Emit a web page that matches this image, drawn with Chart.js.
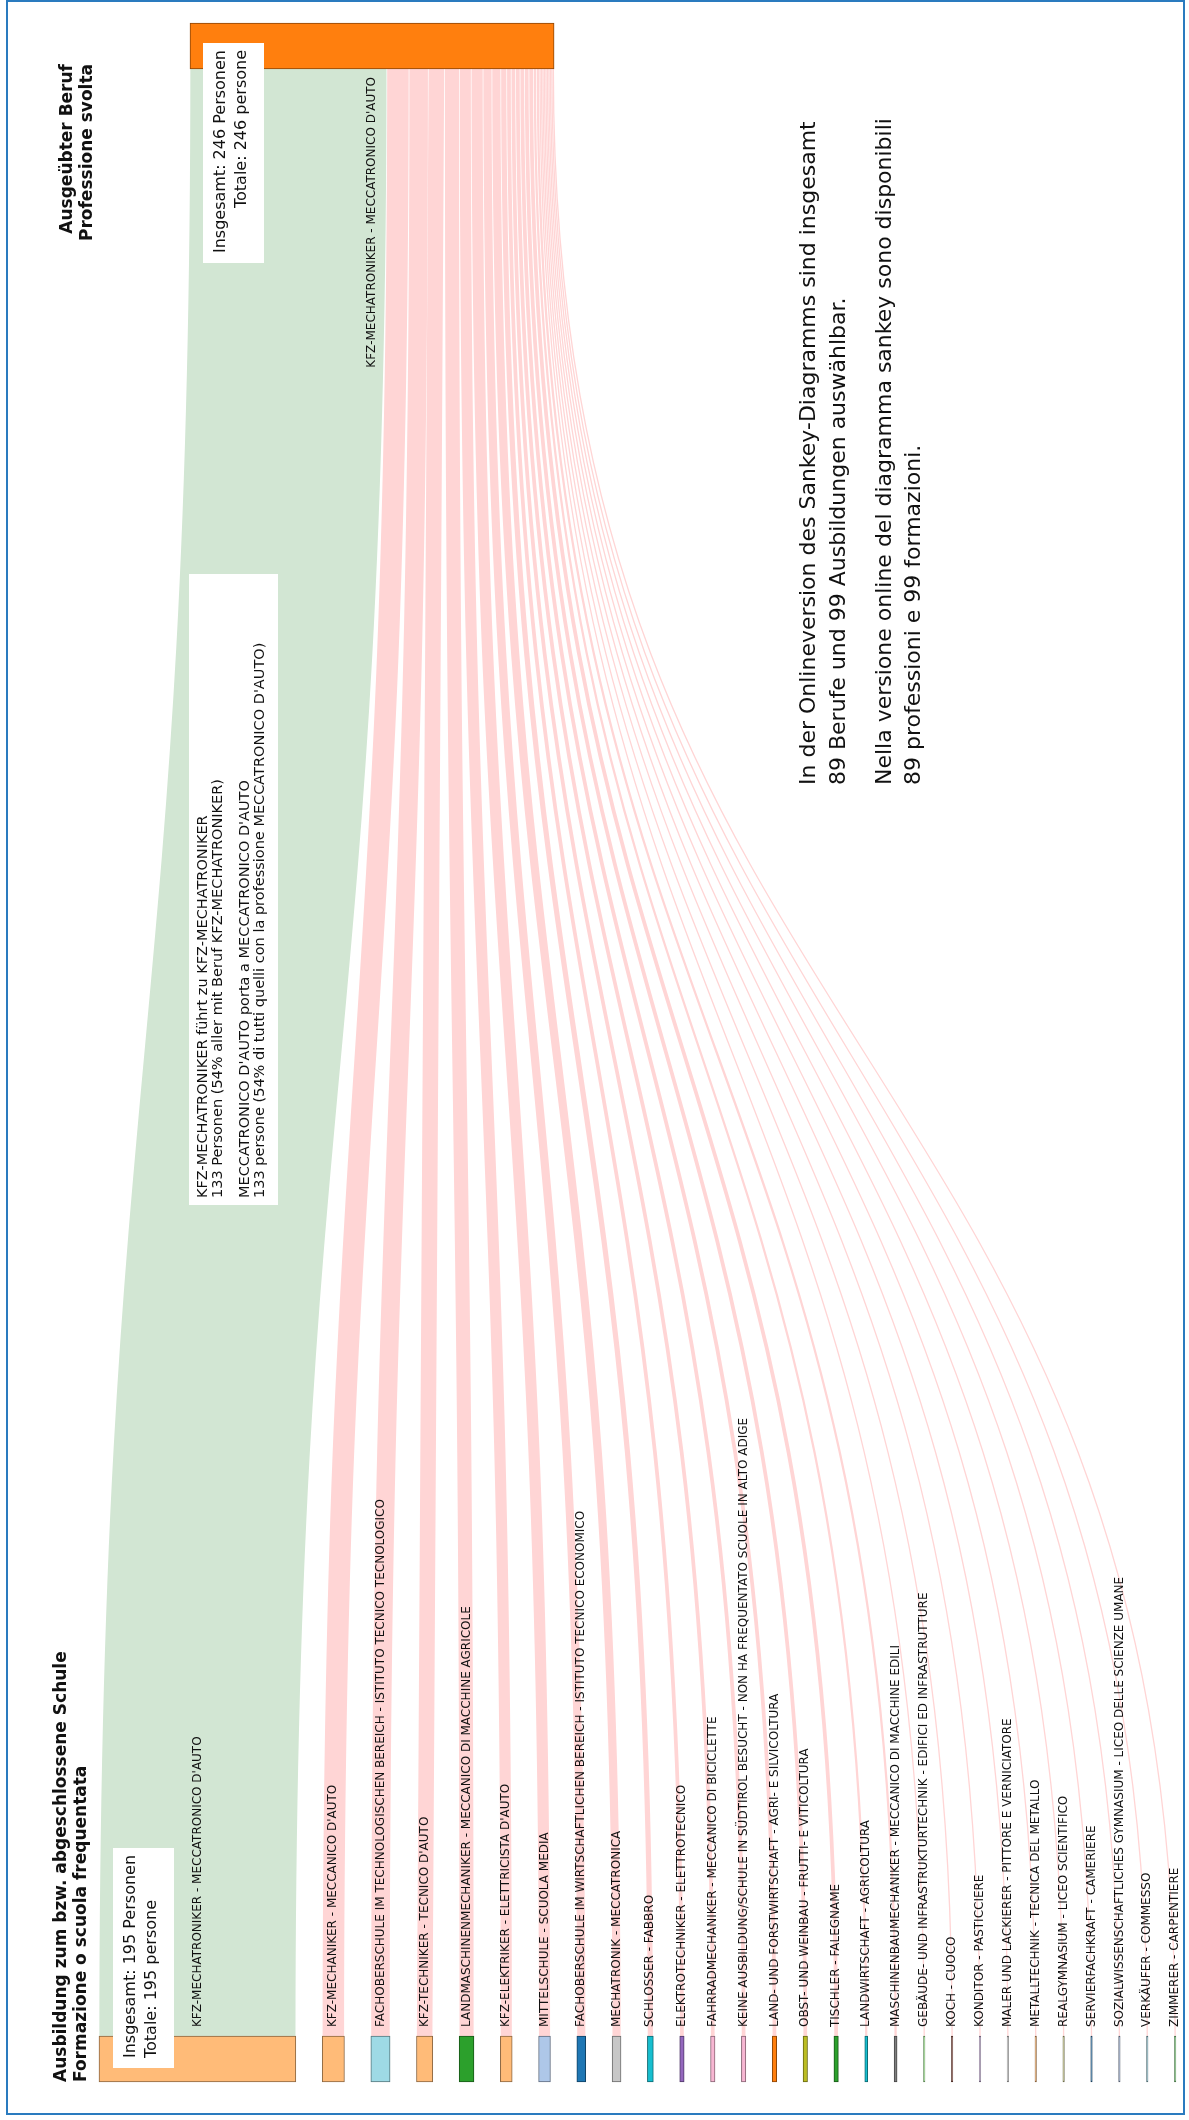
<!DOCTYPE html>
<html lang="de">
<head>
<meta charset="UTF-8"/>
<title>Sankey KFZ-Mechatroniker</title>
<script src="https://cdn.jsdelivr.net/npm/chart.js"></script>
<style>
    html, body { margin: 0; padding: 0; background: #fff; }
    #wrap { width: 1189px; height: 2120px; position: relative; }
</style>
</head>
<body>
<div id="wrap"><canvas id="sankey" width="1189" height="2120"></canvas></div>
<script>
    // Ausbildung / Schule (Quelle) -> Beruf KFZ-MECHATRONIKER (Ziel)
    const sourceLabels = [
        "KFZ-MECHATRONIKER - MECCATRONICO D'AUTO",
        "KFZ-MECHANIKER - MECCANICO D'AUTO",
        "FACHOBERSCHULE IM TECHNOLOGISCHEN BEREICH - ISTITUTO TECNICO TECNOLOGICO",
        "KFZ-TECHNIKER - TECNICO D'AUTO",
        "LANDMASCHINENMECHANIKER - MECCANICO DI MACCHINE AGRICOLE",
        "KFZ-ELEKTRIKER - ELETTRICISTA D'AUTO",
        "MITTELSCHULE - SCUOLA MEDIA",
        "FACHOBERSCHULE IM WIRTSCHAFTLICHEN BEREICH - ISTITUTO TECNICO ECONOMICO",
        "MECHATRONIK - MECCATRONICA",
        "SCHLOSSER - FABBRO",
        "ELEKTROTECHNIKER - ELETTROTECNICO",
        "FAHRRADMECHANIKER - MECCANICO DI BICICLETTE",
        "KEINE AUSBILDUNG/SCHULE IN SÜDTIROL BESUCHT - NON HA FREQUENTATO SCUOLE IN ALTO ADIGE",
        "LAND- UND FORSTWIRTSCHAFT - AGRI- E SILVICOLTURA",
        "OBST- UND WEINBAU - FRUTTI- E VITICOLTURA",
        "TISCHLER - FALEGNAME",
        "LANDWIRTSCHAFT - AGRICOLTURA",
        "MASCHINENBAUMECHANIKER - MECCANICO DI MACCHINE EDILI",
        "GEBÄUDE- UND INFRASTRUKTURTECHNIK - EDIFICI ED INFRASTRUTTURE",
        "KOCH - CUOCO",
        "KONDITOR - PASTICCIERE",
        "MALER UND LACKIERER - PITTORE E VERNICIATORE",
        "METALLTECHNIK - TECNICA DEL METALLO",
        "REALGYMNASIUM - LICEO SCIENTIFICO",
        "SERVIERFACHKRAFT - CAMERIERE",
        "SOZIALWISSENSCHAFTLICHES GYMNASIUM - LICEO DELLE SCIENZE UMANE",
        "VERKÄUFER - COMMESSO",
        "ZIMMERER - CARPENTIERE"
    ];
    // Personen je Ausbildung, die heute als KFZ-Mechatroniker arbeiten
    const sourceValues = [133, 15, 13, 11, 10, 8, 8, 6, 6, 4, 3, 3, 3, 3, 3, 3, 2, 2, 1, 1, 1, 1, 1, 1, 1, 1, 1, 1];
    const sourceColors = [
        '#ffbb78', '#ffbb78', '#9edae5', '#ffbb78', '#2ca02c', '#ffbb78', '#aec7e8', '#1f77b4',
        '#c7c7c7', '#17becf', '#9467bd', '#f7b6d2', '#f7b6d2', '#ff7f0e', '#bcbd22', '#2ca02c',
        '#17becf', '#7f7f7f', '#98df8a', '#8c564b', '#c5b0d5', '#c7c7c7', '#e0a060', '#b0b07a',
        '#2f6a96', '#8a9bb8', '#86b5c0', '#7fc97f'
    ];
    const sourceTotal = 195;   // alle mit Ausbildung KFZ-Mechatroniker
    const targetTotal = 246;   // alle mit Beruf KFZ-Mechatroniker
    const targetLabel = "KFZ-MECHATRONIKER - MECCATRONICO D'AUTO";
    const targetColor = '#ff7f0e';
    const onlineBerufe = 89;
    const onlineAusbildungen = 99;

    // layout (pixels)
    const PX = 1.48;          // px per person
    const GAP = 26.4;         // px between source nodes
    const SRC_LEFT = 99, TGT_LEFT = 190;
    const SRC_Y = 2059, TGT_Y = 46, NODE_H = 46;
    const FONT = '"DejaVu Sans", sans-serif';

    function darker(hex) {
        const n = parseInt(hex.slice(1), 16);
        const f = c => Math.round(c * 0.55);
        return `rgb(${f(n >> 16)},${f((n >> 8) & 255)},${f(n & 255)})`;
    }

    // node extents in person units
    const srcStart = [];
    let acc = 0;
    sourceValues.forEach(v => { srcStart.push(acc); acc += v + GAP / PX; });
    const tgtStart = (TGT_LEFT - SRC_LEFT) / PX;

    const nodeData = sourceValues.map((v, i) => ({ y: SRC_Y, x: [srcStart[i], srcStart[i] + v] }));
    nodeData.push({ y: TGT_Y, x: [tgtStart, tgtStart + targetTotal] });
    const nodeColors = sourceColors.concat([targetColor]);

    function vtext(ctx, str, x, y, align, font, color) {
        ctx.save();
        ctx.translate(x, y);
        ctx.rotate(-Math.PI / 2);
        ctx.font = font;
        ctx.fillStyle = color || '#111';
        ctx.textAlign = align;
        ctx.textBaseline = 'middle';
        ctx.fillText(str, 0, 0);
        ctx.restore();
    }

    const linkPlugin = {
        id: 'links',
        beforeDatasetsDraw(chart) {
            const ctx = chart.ctx, xs = chart.scales.x, ys = chart.scales.y;
            const sTop = ys.getPixelForValue(SRC_Y) - NODE_H / 2;
            const tBot = ys.getPixelForValue(TGT_Y) + NODE_H / 2;
            const ym = (sTop + tBot) / 2;
            let off = tgtStart;
            ctx.save();
            ctx.lineCap = 'butt';
            sourceValues.forEach((v, i) => {
                const x0 = xs.getPixelForValue(srcStart[i] + v / 2);
                const x1 = xs.getPixelForValue(off + v / 2);
                const w = xs.getPixelForValue(v) - xs.getPixelForValue(0);
                off += v;
                ctx.beginPath();
                ctx.moveTo(x0, sTop);
                ctx.bezierCurveTo(x0, ym, x1, ym, x1, tBot);
                ctx.lineWidth = Math.max(1.3, w - 0.7);
                ctx.strokeStyle = i === 0 ? 'rgb(210,230,211)' : 'rgb(255,213,213)';
                ctx.stroke();
            });
            ctx.restore();
        },
        afterDatasetsDraw(chart) {
            const ctx = chart.ctx, xs = chart.scales.x, ys = chart.scales.y;
            const sTop = ys.getPixelForValue(SRC_Y) - NODE_H / 2;
            const tBot = ys.getPixelForValue(TGT_Y) + NODE_H / 2;

            // source labels
            sourceValues.forEach((v, i) => {
                const cx = xs.getPixelForValue(srcStart[i] + v / 2);
                vtext(ctx, sourceLabels[i], cx, sTop - 9, 'left', '12px ' + FONT);
            });
            // target label
            const tcx = xs.getPixelForValue(tgtStart + targetTotal / 2);
            vtext(ctx, targetLabel, tcx, tBot + 8, 'right', '12px ' + FONT);

            ctx.fillStyle = '#fff';
            // source total box
            ctx.fillRect(113, 1848, 61, 220);
            vtext(ctx, `Insgesamt: ${sourceTotal} Personen`, 131, 2058, 'left', '16px ' + FONT);
            vtext(ctx, `Totale: ${sourceTotal} persone`, 152, 2058, 'left', '16px ' + FONT);
            // target total box
            ctx.fillStyle = '#fff';
            ctx.fillRect(203, 43, 61, 220);
            vtext(ctx, `Insgesamt: ${targetTotal} Personen`, 221, 50, 'right', '16px ' + FONT);
            vtext(ctx, `Totale: ${targetTotal} persone`, 242, 50, 'right', '16px ' + FONT);

            // annotation for the main flow
            const pct = Math.round(sourceValues[0] / targetTotal * 100);
            const de = targetLabel.split(' - ')[0], it = targetLabel.split(' - ')[1];
            ctx.fillStyle = '#fff';
            ctx.fillRect(189, 574, 89, 631);
            vtext(ctx, `${de} führt zu ${de}`, 203, 1198, 'left', '14.5px ' + FONT);
            vtext(ctx, `${sourceValues[0]} Personen (${pct}% aller mit Beruf ${de})`, 218, 1198, 'left', '14.5px ' + FONT);
            vtext(ctx, `${it} porta a ${it}`, 245, 1198, 'left', '14.5px ' + FONT);
            vtext(ctx, `${sourceValues[0]} persone (${pct}% di tutti quelli con la professione ${it})`, 260, 1198, 'left', '14.5px ' + FONT);

            // online note
            vtext(ctx, 'In der Onlineversion des Sankey-Diagramms sind insgesamt', 809, 785, 'left', '22px ' + FONT);
            vtext(ctx, `${onlineBerufe} Berufe und ${onlineAusbildungen} Ausbildungen auswählbar.`, 839, 785, 'left', '22px ' + FONT);
            vtext(ctx, 'Nella versione online del diagramma sankey sono disponibili', 885, 785, 'left', '22px ' + FONT);
            vtext(ctx, `${onlineBerufe} professioni e ${onlineAusbildungen} formazioni.`, 914, 785, 'left', '22px ' + FONT);

            // axis titles
            vtext(ctx, 'Ausbildung zum bzw. abgeschlossene Schule', 62, 2082, 'left', 'bold 17px ' + FONT);
            vtext(ctx, 'Formazione o scuola frequentata', 82, 2082, 'left', 'bold 17px ' + FONT);
            vtext(ctx, 'Ausgeübter Beruf', 68, 64, 'right', 'bold 17px ' + FONT);
            vtext(ctx, 'Professione svolta', 88, 64, 'right', 'bold 17px ' + FONT);

            // frame
            ctx.strokeStyle = '#2a7bbf';
            ctx.lineWidth = 2;
            ctx.strokeRect(7, 1, 1177, 2113);
        }
    };

    new Chart(document.getElementById('sankey').getContext('2d'), {
        type: 'bar',
        data: {
            datasets: [{
                label: 'Knoten',
                data: nodeData,
                backgroundColor: nodeColors,
                borderColor: nodeColors.map(darker),
                borderWidth: 1,
                borderSkipped: false,
                barThickness: NODE_H
            }]
        },
        options: {
            indexAxis: 'y',
            responsive: false,
            animation: false,
            devicePixelRatio: 1,
            layout: { padding: 0 },
            plugins: { legend: { display: false }, tooltip: { enabled: false } },
            scales: {
                x: { type: 'linear', display: false, offset: false, min: -SRC_LEFT / PX, max: (1189 - SRC_LEFT) / PX },
                y: { type: 'linear', display: false, offset: false, min: 0, max: 2120, reverse: true }
            }
        },
        plugins: [linkPlugin]
    });
</script>
</body>
</html>
